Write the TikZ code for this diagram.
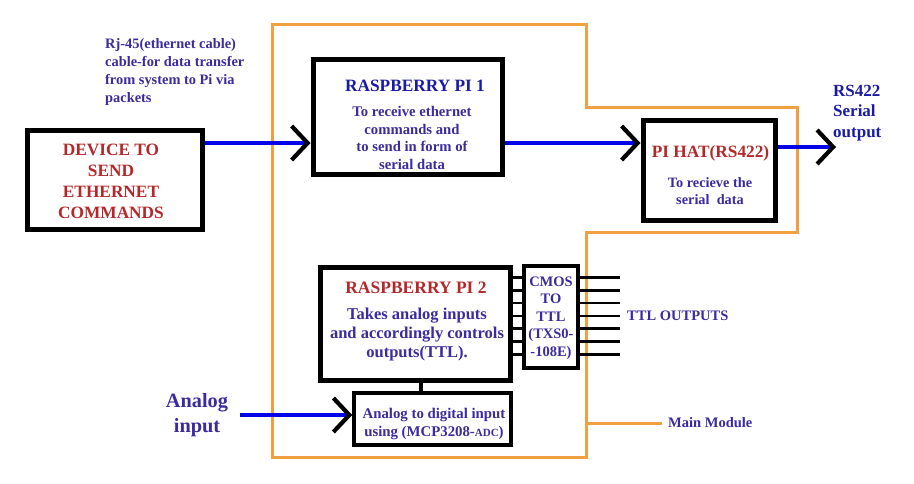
\documentclass[tikz,border=0pt]{standalone}
\usepackage{fontspec}
\setmainfont{Liberation Serif}
\usetikzlibrary{arrows.meta}
\definecolor{ored}{HTML}{B5282A}
\definecolor{opurp}{HTML}{3B2B9E}
\definecolor{oblue}{HTML}{1A1AA8}
\definecolor{oorange}{HTML}{F0A040}
\definecolor{oline}{HTML}{0000E6}
\tikzset{
  box/.style={draw=black, line width=5pt, inner sep=0pt, fill=white},
  sbox/.style={draw=black, line width=3.5pt, inner sep=0pt, fill=white},
  txt/.style={inner sep=0pt, align=center, font=\bfseries},
  conn/.style={draw=oline, line width=4.5pt, -{Straight Barb[length=16pt,width=34pt,line width=4.2pt,color=black]}},
  pin/.style={draw=black, line width=2.5pt},
}
\begin{document}
\begin{tikzpicture}[x=1pt,y=-1pt]
\useasboundingbox (0,0) rectangle (914,483);
\fill[white] (0,0) rectangle (914,483);
% main module outline
\draw[oorange, line width=3pt, line join=miter]
  (272,24) -- (586,24) -- (586,107) -- (797,107) -- (797,232) -- (586,232) -- (586,457) -- (272,457) -- cycle;
\coordinate (mmA) at (586,423);
\coordinate (mmB) at (662,423);
\draw[oorange, line width=3pt] (mmA) -- (mmB);
\node[txt, anchor=west, text=opurp, font=\bfseries\fontsize{14.5}{17}\selectfont] (mmlbl) at (668,423) {Main Module};

% boxes
\node[box, minimum width=175pt, minimum height=99pt] (dev) at (114.5,179.5) {};
\node[box, minimum width=189pt, minimum height=115pt] (rpi1) at (407.5,116.5) {};
\node[box, minimum width=132pt, minimum height=100pt] (hat) at (709,170) {};
\node[box, minimum width=190pt, minimum height=113pt] (rpi2) at (415,323.5) {};
\node[sbox, minimum width=54pt, minimum height=102pt] (cmos) at (551,317) {};
\node[sbox, minimum width=157pt, minimum height=52pt] (adc) at (432.5,419) {};

% texts
\node[txt, text=ored, font=\bfseries\fontsize{17.3}{21}\selectfont] (devt) at (111,181.5) {DEVICE TO\\SEND\\ETHERNET\\COMMANDS};
\node[txt, text=opurp, align=left, anchor=west, font=\bfseries\fontsize{14.4}{18}\selectfont] (rjt) at (105,72) {Rj-45(ethernet cable)\\cable-for data transfer\\from system to Pi via\\packets};
\node[txt, text=oblue, font=\bfseries\fontsize{17.3}{21}\selectfont] (rpi1t) at (415,86) {RASPBERRY PI 1};
\node[txt, text=opurp, font=\bfseries\fontsize{14.7}{17.7}\selectfont] (rpi1b) at (412,138) {To receive ethernet\\commands and\\to send in form of\\serial data};
\node[txt, text=ored, font=\bfseries\fontsize{17.3}{21}\selectfont] (hatt) at (710.5,153) {PI HAT(RS422)};
\node[txt, text=opurp, font=\bfseries\fontsize{14.3}{17}\selectfont] (hatb) at (710,191) {To recieve the\\serial\ \ data};
\node[txt, text=oblue, align=left, anchor=west, font=\bfseries\fontsize{17}{20.5}\selectfont] (rst) at (833,113) {RS422\\Serial\\output};
\node[txt, text=ored, font=\bfseries\fontsize{17.5}{21}\selectfont] (rpi2t) at (416,288) {RASPBERRY PI 2};
\node[txt, text=opurp, font=\bfseries\fontsize{16.5}{19}\selectfont] (rpi2b) at (417,335) {Takes analog inputs\\and accordingly controls\\outputs(TTL).};
\node[txt, text=opurp, font=\bfseries\fontsize{14.5}{17.5}\selectfont] (cmost) at (551,318) {CMOS\\TO\\TTL\\(TXS0-\\-108E)};
\node[txt, text=opurp, font=\bfseries\fontsize{14.8}{18}\selectfont] (adct) at (434,424) {Analog to digital input\\using (MCP3208-{\fontsize{11}{13}\selectfont ADC})};
\node[txt, text=opurp, font=\bfseries\fontsize{20.3}{25}\selectfont] (ain) at (197,415) {Analog\\input};
\node[txt, text=opurp, anchor=west, font=\bfseries\fontsize{14.5}{17}\selectfont] (ttlo) at (627,316) {TTL OUTPUTS};

% pins
\foreach \i in {0,...,6} {
  \pgfmathsetmacro{\yy}{277.5+12.8*\i}
  \draw[pin] (rpi2.east |- 0,\yy) -- (cmos.west |- 0,\yy);
  \draw[pin] (cmos.east |- 0,\yy) -- (620,\yy);
}
% rpi2 to adc
\draw[black, line width=4pt] (rpi2.south -| 421,0) -- (adc.north -| 421,0);

% connectors
\coordinate (rsout) at (836,147);
\coordinate (ainA) at (240,415);
\draw[conn] (dev.east |- 0,143) -- (rpi1.west |- 0,143);
\draw[conn] (rpi1.east |- 0,143) -- (hat.west |- 0,143);
\draw[conn] (hat.east |- 0,147) -- (rsout);
\draw[conn] (ainA) -- (adc.west |- ainA);
\end{tikzpicture}
\end{document}
